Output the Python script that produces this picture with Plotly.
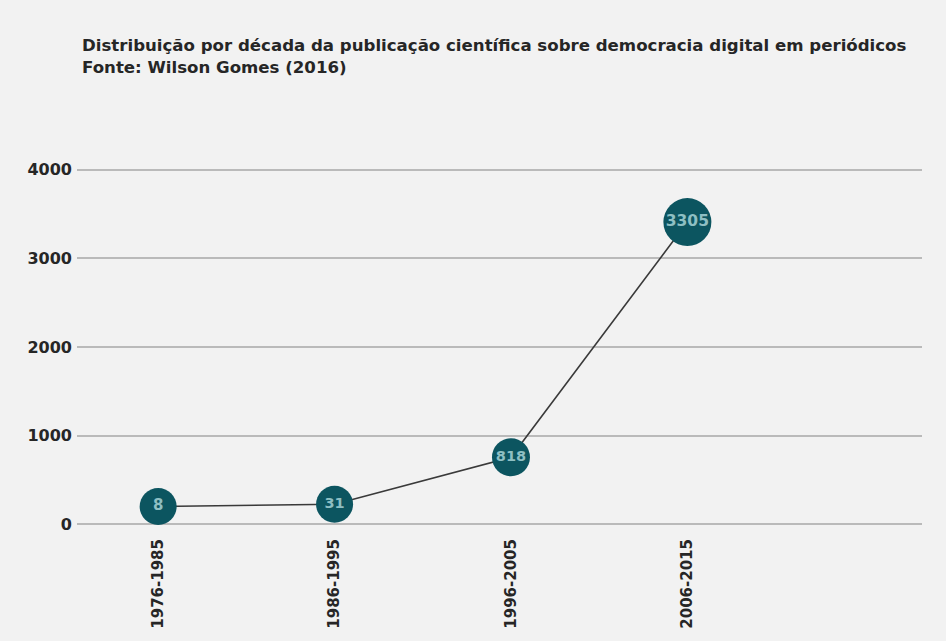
import plotly.graph_objects as go

# Data
decades = ["1976-1985", "1986-1995", "1996-2005", "2006-2015"]
publications = [8, 31, 818, 3305]          # labels shown in the markers
drawn_height = [200, 225, 755, 3410]       # vertical positions as drawn in the original graphic
y_ticks = [0, 1000, 2000, 3000, 4000]

marker_size = [37, 37, 38, 48]

BG = "#f2f2f2"
TEAL = "#0c5560"
LABEL = "#8ebfc3"
DARK = "#262626"
FONT = "DejaVu Sans"

fig = go.Figure()
fig.add_trace(go.Scatter(
    x=decades,
    y=drawn_height,
    mode="lines+markers+text",
    line=dict(color="#3a3a3a", width=1.6),
    marker=dict(size=marker_size, color=TEAL, line=dict(width=0), opacity=1),
    text=[str(v) for v in publications],
    textposition="middle center",
    textfont=dict(family=FONT, size=[15, 14.5, 14.5, 15.5], color=LABEL, weight="bold"),
    cliponaxis=False,
    hoverinfo="skip",
    showlegend=False,
))

fig.update_layout(
    width=946, height=641,
    paper_bgcolor=BG, plot_bgcolor=BG,
    margin=dict(l=77, r=24, t=160, b=100),
    title=dict(
        text="Distribuição por década da publicação científica sobre democracia digital em periódicos<br>Fonte: Wilson Gomes (2016)",
        x=82 / 946, xanchor="left", xref="container",
        y=1 - 51 / 641, yanchor="top", yref="container",
        font=dict(family=FONT, size=16.6, color=DARK, weight="bold"),
    ),
    font=dict(family=FONT, color=DARK),
)
fig.update_xaxes(
    type="category",
    range=[-0.46, 4.33],
    tickangle=-90,
    tickfont=dict(family=FONT, size=15, color=DARK, weight="bold"),
    showgrid=False, zeroline=False, showline=False,
    ticks="",
)
fig.update_yaxes(
    range=[-122, 4111],
    tickvals=y_ticks,
    ticktext=[str(t) for t in y_ticks],
    tickfont=dict(family=FONT, size=16, color=DARK, weight="bold"),
    showgrid=True, gridcolor="#bababa", gridwidth=1.5,
    zeroline=True, zerolinecolor="#bababa", zerolinewidth=1.5,
    showline=False, ticks="", ticklabelstandoff=4,
)

fig.write_html("out.html")
